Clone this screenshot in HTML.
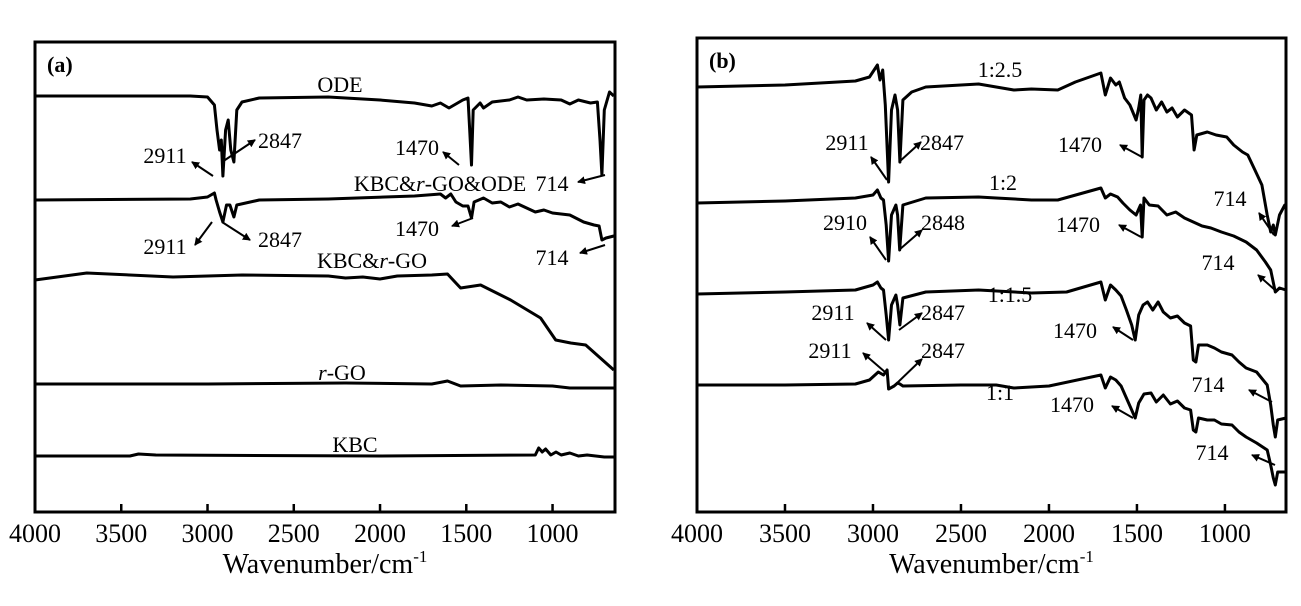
<!DOCTYPE html>
<html><head><meta charset="utf-8"><style>
body{margin:0;background:#fff;}
svg text{font-family:"Liberation Serif",serif;fill:#000;}
</style></head><body>
<svg id="c" width="1301" height="601" viewBox="0 0 1301 601" xmlns="http://www.w3.org/2000/svg">
<defs><marker id="ah" markerWidth="8" markerHeight="8" refX="7" refY="4" orient="auto" markerUnits="userSpaceOnUse"><path d="M0,0 L8,4 L0,8 Z" fill="#000"/></marker></defs>
</svg>
<script>
// x ticks
const tickValues=[4000,3500,3000,2500,2000,1500,1000];
// panel a series: [wavenumber, intensity(offset units)]
const seriesA_ODE=[[4000,96],[3100,96],[3000,97],[2960,105],[2945,130],[2930,150],[2920,140],[2911,176],[2895,130],[2880,120],[2865,150],[2847,162],[2830,110],[2800,102],[2700,98],[2300,97],[2000,100],[1800,103],[1700,106],[1650,103],[1600,108],[1520,100],[1490,98],[1480,130],[1470,165],[1460,110],[1420,103],[1400,108],[1350,102],[1250,100],[1200,97],[1150,100],[1050,99],[950,100],[900,104],[850,100],[780,103],[740,102],[725,140],[714,175],[700,110],[670,92],[645,96]];
const seriesA_KGO=[[4000,200],[3100,199],[3000,197],[2960,193],[2950,200],[2930,212],[2911,222],[2890,205],[2870,205],[2847,217],[2830,205],[2700,200],[2300,199],[1800,196],[1650,194],[1620,198],[1590,194],[1560,202],[1520,206],[1490,206],[1470,218],[1455,202],[1400,198],[1350,203],[1300,202],[1250,207],[1200,204],[1100,212],[1050,210],[1000,213],[900,215],[820,222],[760,225],[730,226],[714,240],[690,238],[645,236]];
const seriesA_KG=[[4000,280],[3700,273],[3200,277],[2800,275],[2300,276],[2200,278],[2100,277],[2000,279],[1900,276],[1700,275],[1609,274],[1560,283],[1533,288],[1417,285],[1243,300],[1069,318],[982,340],[895,343],[808,345],[645,370]];
const seriesA_RGO=[[4000,384],[3000,384],[2200,383],[1700,384],[1609,381],[1533,386],[1300,385],[1000,386],[900,388],[645,388]];
const seriesA_KBC=[[4000,456],[3450,456],[3400,454],[3300,455],[2000,456],[1100,455],[1080,448],[1060,452],[1040,449],[1010,455],[980,452],[950,455],[900,453],[850,456],[800,455],[700,457],[645,457]];
// panel b series
const seriesB_25=[[4000,87],[3500,85],[3100,81],[3020,77],[2975,65],[2960,80],[2945,70],[2930,105],[2911,182],[2895,110],[2875,95],[2860,110],[2847,162],[2830,100],[2780,92],[2700,87],[2400,84],[2300,87],[2200,90],[2100,89],[1950,90],[1850,82],[1705,73],[1680,95],[1650,78],[1620,85],[1600,82],[1570,98],[1540,105],[1505,120],[1490,108],[1478,95],[1470,157],[1460,100],[1440,95],[1420,98],[1390,110],[1360,102],[1330,112],[1300,108],[1270,117],[1230,110],[1190,115],[1175,150],[1160,135],[1100,132],[1050,135],[990,137],[950,145],[900,152],[870,155],[830,170],[790,185],[760,215],[740,232],[725,225],[714,235],[690,215],[660,205],[653,205]];
const seriesB_2=[[4000,203],[3500,201],[3100,198],[3000,195],[2975,190],[2955,198],[2940,200],[2925,225],[2911,261],[2895,215],[2870,205],[2860,215],[2848,250],[2830,205],[2700,198],[2400,197],[2300,198],[2100,200],[1950,200],[1705,188],[1680,198],[1650,194],[1610,197],[1580,203],[1540,210],[1505,215],[1480,205],[1470,237],[1460,198],[1430,205],[1380,206],[1330,215],[1280,212],[1230,218],[1180,222],[1130,226],[1080,228],[1020,232],[950,236],[880,242],[820,250],[770,262],[740,270],[714,292],[690,288],[653,290]];
const seriesB_15=[[4000,294],[3500,292],[3100,290],[3000,285],[2975,282],[2955,288],[2940,290],[2925,315],[2911,340],[2895,305],[2870,295],[2860,305],[2847,325],[2830,298],[2700,292],[2400,290],[2100,293],[1900,292],[1705,282],[1680,300],[1650,285],[1620,290],[1590,296],[1560,310],[1530,325],[1510,340],[1490,315],[1465,305],[1440,302],[1410,310],[1380,302],[1350,312],[1310,318],[1270,316],[1230,323],[1195,326],[1180,360],[1165,362],[1150,345],[1100,345],[1060,348],[1020,352],[960,355],[920,362],[880,368],[820,372],[760,385],[740,405],[725,425],[714,437],[700,420],[653,418]];
const seriesB_11=[[4000,385],[3500,385],[3100,384],[3020,380],[2970,372],[2940,375],[2920,370],[2911,389],[2880,386],[2860,383],[2847,384],[2830,386],[2500,385],[2300,385],[2200,388],[2000,386],[1705,375],[1680,388],[1650,377],[1620,380],[1590,386],[1560,398],[1530,410],[1510,418],[1490,403],[1460,394],[1420,393],[1390,402],[1350,395],[1310,404],[1270,401],[1230,408],[1195,410],[1180,430],[1165,432],[1150,418],[1100,420],[1060,420],[1020,424],[960,425],[920,432],[880,437],[820,443],[760,450],[740,465],[725,478],[714,485],[700,472],[653,472]];

const svg=document.getElementById('c');
const NS='http://www.w3.org/2000/svg';
function mk(tag,attrs,parent){const e=document.createElementNS(NS,tag);for(const k in attrs)e.setAttribute(k,attrs[k]);(parent||svg).appendChild(e);return e;}
function makeX(l,r,lo,hi){return v=>l+(lo-v)/(lo-hi)*(r-l);}
const panels=[{l:35,r:615,t:42,b:512,hi:638,label:'(a)'},{l:697,r:1286,t:38,b:512,hi:653,label:'(b)'}];
panels.forEach((p,i)=>{
 p.x=makeX(p.l,p.r,4000,p.hi);
 const g=mk('g',{});
 
 
 const fr=mk('rect',{x:p.l,y:p.t,width:p.r-p.l,height:p.b-p.t,fill:'none',stroke:'#000','stroke-width':3},g);
 
 tickValues.forEach(v=>{const X=p.x(v);
  const tk=mk('line',{x1:X,x2:X,y1:p.b,y2:p.b-8,stroke:'#000','stroke-width':2.5},g);
  
  const tl=mk('text',{x:X,y:p.b+30,'font-size':26,'text-anchor':'middle'},g);tl.textContent=v;
  });
 const xt=mk('text',{x:(p.l+p.r)/2,y:573,'font-size':28,'text-anchor':'middle'},g);
 xt.innerHTML='Wavenumber/cm<tspan dy="-11" font-size="17">-1</tspan>';
 
 const pl=mk('text',{x:p.l+12,y:p.t+30,'font-size':22,'font-weight':'bold'},g);pl.textContent=p.label;
 
});
function drawSeries(p,data,name){
 const d=data.map((pt,j)=>(j?'L':'M')+p.x(pt[0]).toFixed(1)+','+pt[1]).join(' ');
 const e=mk('path',{d:d,fill:'none',stroke:'#000','stroke-width':3,'stroke-linejoin':'round'});
 
 
}
const A=panels[0],B=panels[1];
drawSeries(A,seriesA_ODE,'line-ode');drawSeries(A,seriesA_KGO,'line-kbc-rgo-ode');drawSeries(A,seriesA_KG,'line-kbc-rgo');drawSeries(A,seriesA_RGO,'line-rgo');drawSeries(A,seriesA_KBC,'line-kbc');
drawSeries(B,seriesB_25,'line-1-2.5');drawSeries(B,seriesB_2,'line-1-2');drawSeries(B,seriesB_15,'line-1-1.5');drawSeries(B,seriesB_11,'line-1-1');
function label(x,y,html,size){const t=mk('text',{x:x,y:y,'font-size':size||22,'text-anchor':'middle'});t.innerHTML=html;
 
 }
function arrow(x1,y1,x2,y2){const l=mk('line',{x1:x1,y1:y1,x2:x2,y2:y2,stroke:'#000','stroke-width':2,'marker-end':'url(#ah)'});
 
 }
// panel a labels
label(340,92,'ODE');label(440,191,'KBC&amp;<tspan font-style="italic">r</tspan>-GO&amp;ODE');label(372,268,'KBC&amp;<tspan font-style="italic">r</tspan>-GO');label(342,380,'<tspan font-style="italic">r</tspan>-GO');label(355,452,'KBC');
label(165,163,'2911');arrow(213,176,192,162);label(280,148,'2847');arrow(222,162,255,140);
label(417,155,'1470');arrow(459,165,443,152);label(552,191,'714');arrow(605,175,578,182);
label(165,254,'2911');arrow(212,222,195,245);label(280,247,'2847');arrow(222,222,250,240);
label(417,236,'1470');arrow(473,218,452,226);label(552,265,'714');arrow(605,245,580,253);
// panel b labels
label(1000,77,'1:2.5');label(1003,190,'1:2');label(1010,302,'1:1.5');label(1000,400,'1:1');
label(847,150,'2911');arrow(887,180,871,157);label(942,150,'2847');arrow(899,162,921,142);
label(1080,152,'1470');arrow(1142,157,1120,145);label(1230,206,'714');arrow(1274,235,1259,213);
label(845,230,'2910');arrow(886,260,870,237);label(943,230,'2848');arrow(899,250,922,230);
label(1078,232,'1470');arrow(1141,237,1119,225);label(1218,270,'714');arrow(1275,290,1258,275);
label(833,320,'2911');arrow(886,340,867,323);label(943,320,'2847');arrow(899,330,922,313);
label(1075,338,'1470');arrow(1133,340,1113,327);label(1208,392,'714');arrow(1272,402,1249,390);
label(830,358,'2911');arrow(885,372,863,353);label(943,358,'2847');arrow(895,385,922,359);
label(1072,412,'1470');arrow(1133,418,1112,406);label(1212,460,'714');arrow(1275,465,1252,455);
</script>
</body></html>
